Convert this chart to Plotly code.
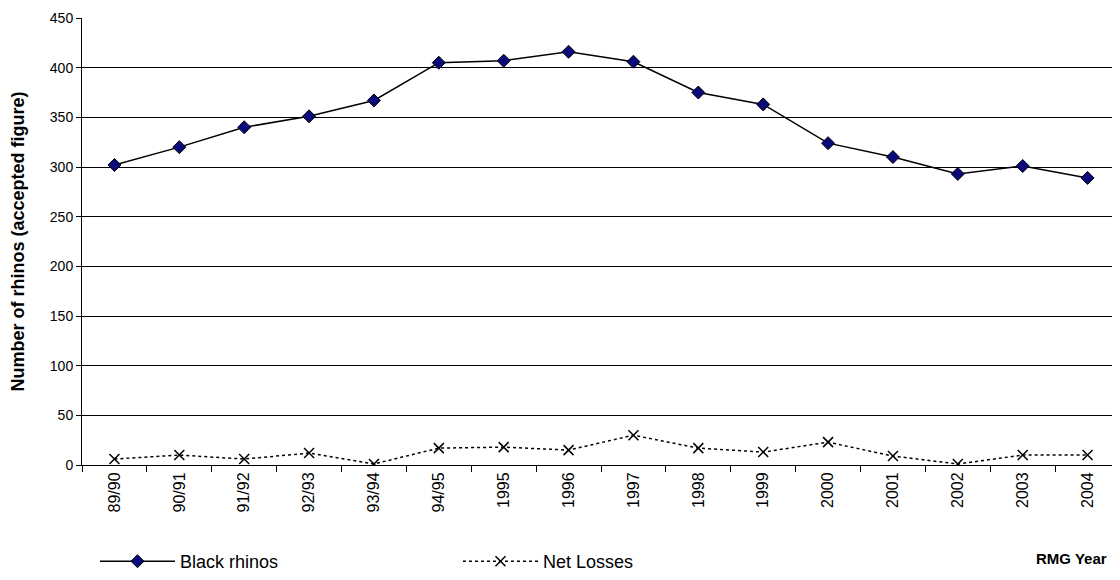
import plotly.graph_objects as go

years = ["89/90","90/91","91/92","92/93","93/94","94/95","1995","1996","1997","1998","1999","2000","2001","2002","2003","2004"]
black_rhinos = [302,320,340,351,367,405,407,416,406,375,363,324,310,293,301,289]
net_losses = [6,10,6,12,1,17,18,15,30,17,13,23,9,1,10,10]

F = "Liberation Sans, Arial, sans-serif"
fig = go.Figure()
fig.add_trace(go.Scatter(x=years, y=black_rhinos, name="Black rhinos", mode="lines+markers",
    line=dict(color="black", width=1.5),
    marker=dict(symbol="diamond", size=10, color="#0a0a7a", line=dict(color="black", width=1))))
fig.add_trace(go.Scatter(x=years, y=net_losses, name="Net Losses", mode="lines+markers",
    line=dict(color="black", width=1.5, dash="dot"),
    marker=dict(symbol="x-thin", size=10, color="black", line=dict(color="black", width=1.5))))

fig.update_layout(
    width=1112, height=572, paper_bgcolor="white", plot_bgcolor="white",
    margin=dict(l=74, r=0, t=10, b=115, autoexpand=False),
    font=dict(family=F, size=13, color="black"),
    showlegend=True,
    legend=dict(orientation="h", x=0.0125, y=-0.005, yref="container", xanchor="left", yanchor="bottom",
                font=dict(size=18), entrywidthmode="pixels", entrywidth=273, itemwidth=75),
    xaxis=dict(type="category", tickangle=-90, showline=True, linecolor="black", automargin=False,
               ticks="outside", ticklen=6, tickcolor="black", tickson="boundaries",
               showgrid=False, range=[-0.5, 15.5], tickfont=dict(size=16)),
    yaxis=dict(range=[0, 450], dtick=50, showline=True, linecolor="black", automargin=False,
               ticks="outside", ticklen=5, tickcolor="black",
               gridcolor="black", gridwidth=1, tickfont=dict(size=14),
               title=dict(text="<b>Number of rhinos (accepted figure)</b>", font=dict(size=18), standoff=26)),
    annotations=[dict(text="<b>RMG Year</b>", xref="paper", yref="paper", x=0.9895, y=-0.21,
                      xanchor="right", yanchor="middle", showarrow=False, font=dict(size=15))],
)
fig.write_html("out.html")
